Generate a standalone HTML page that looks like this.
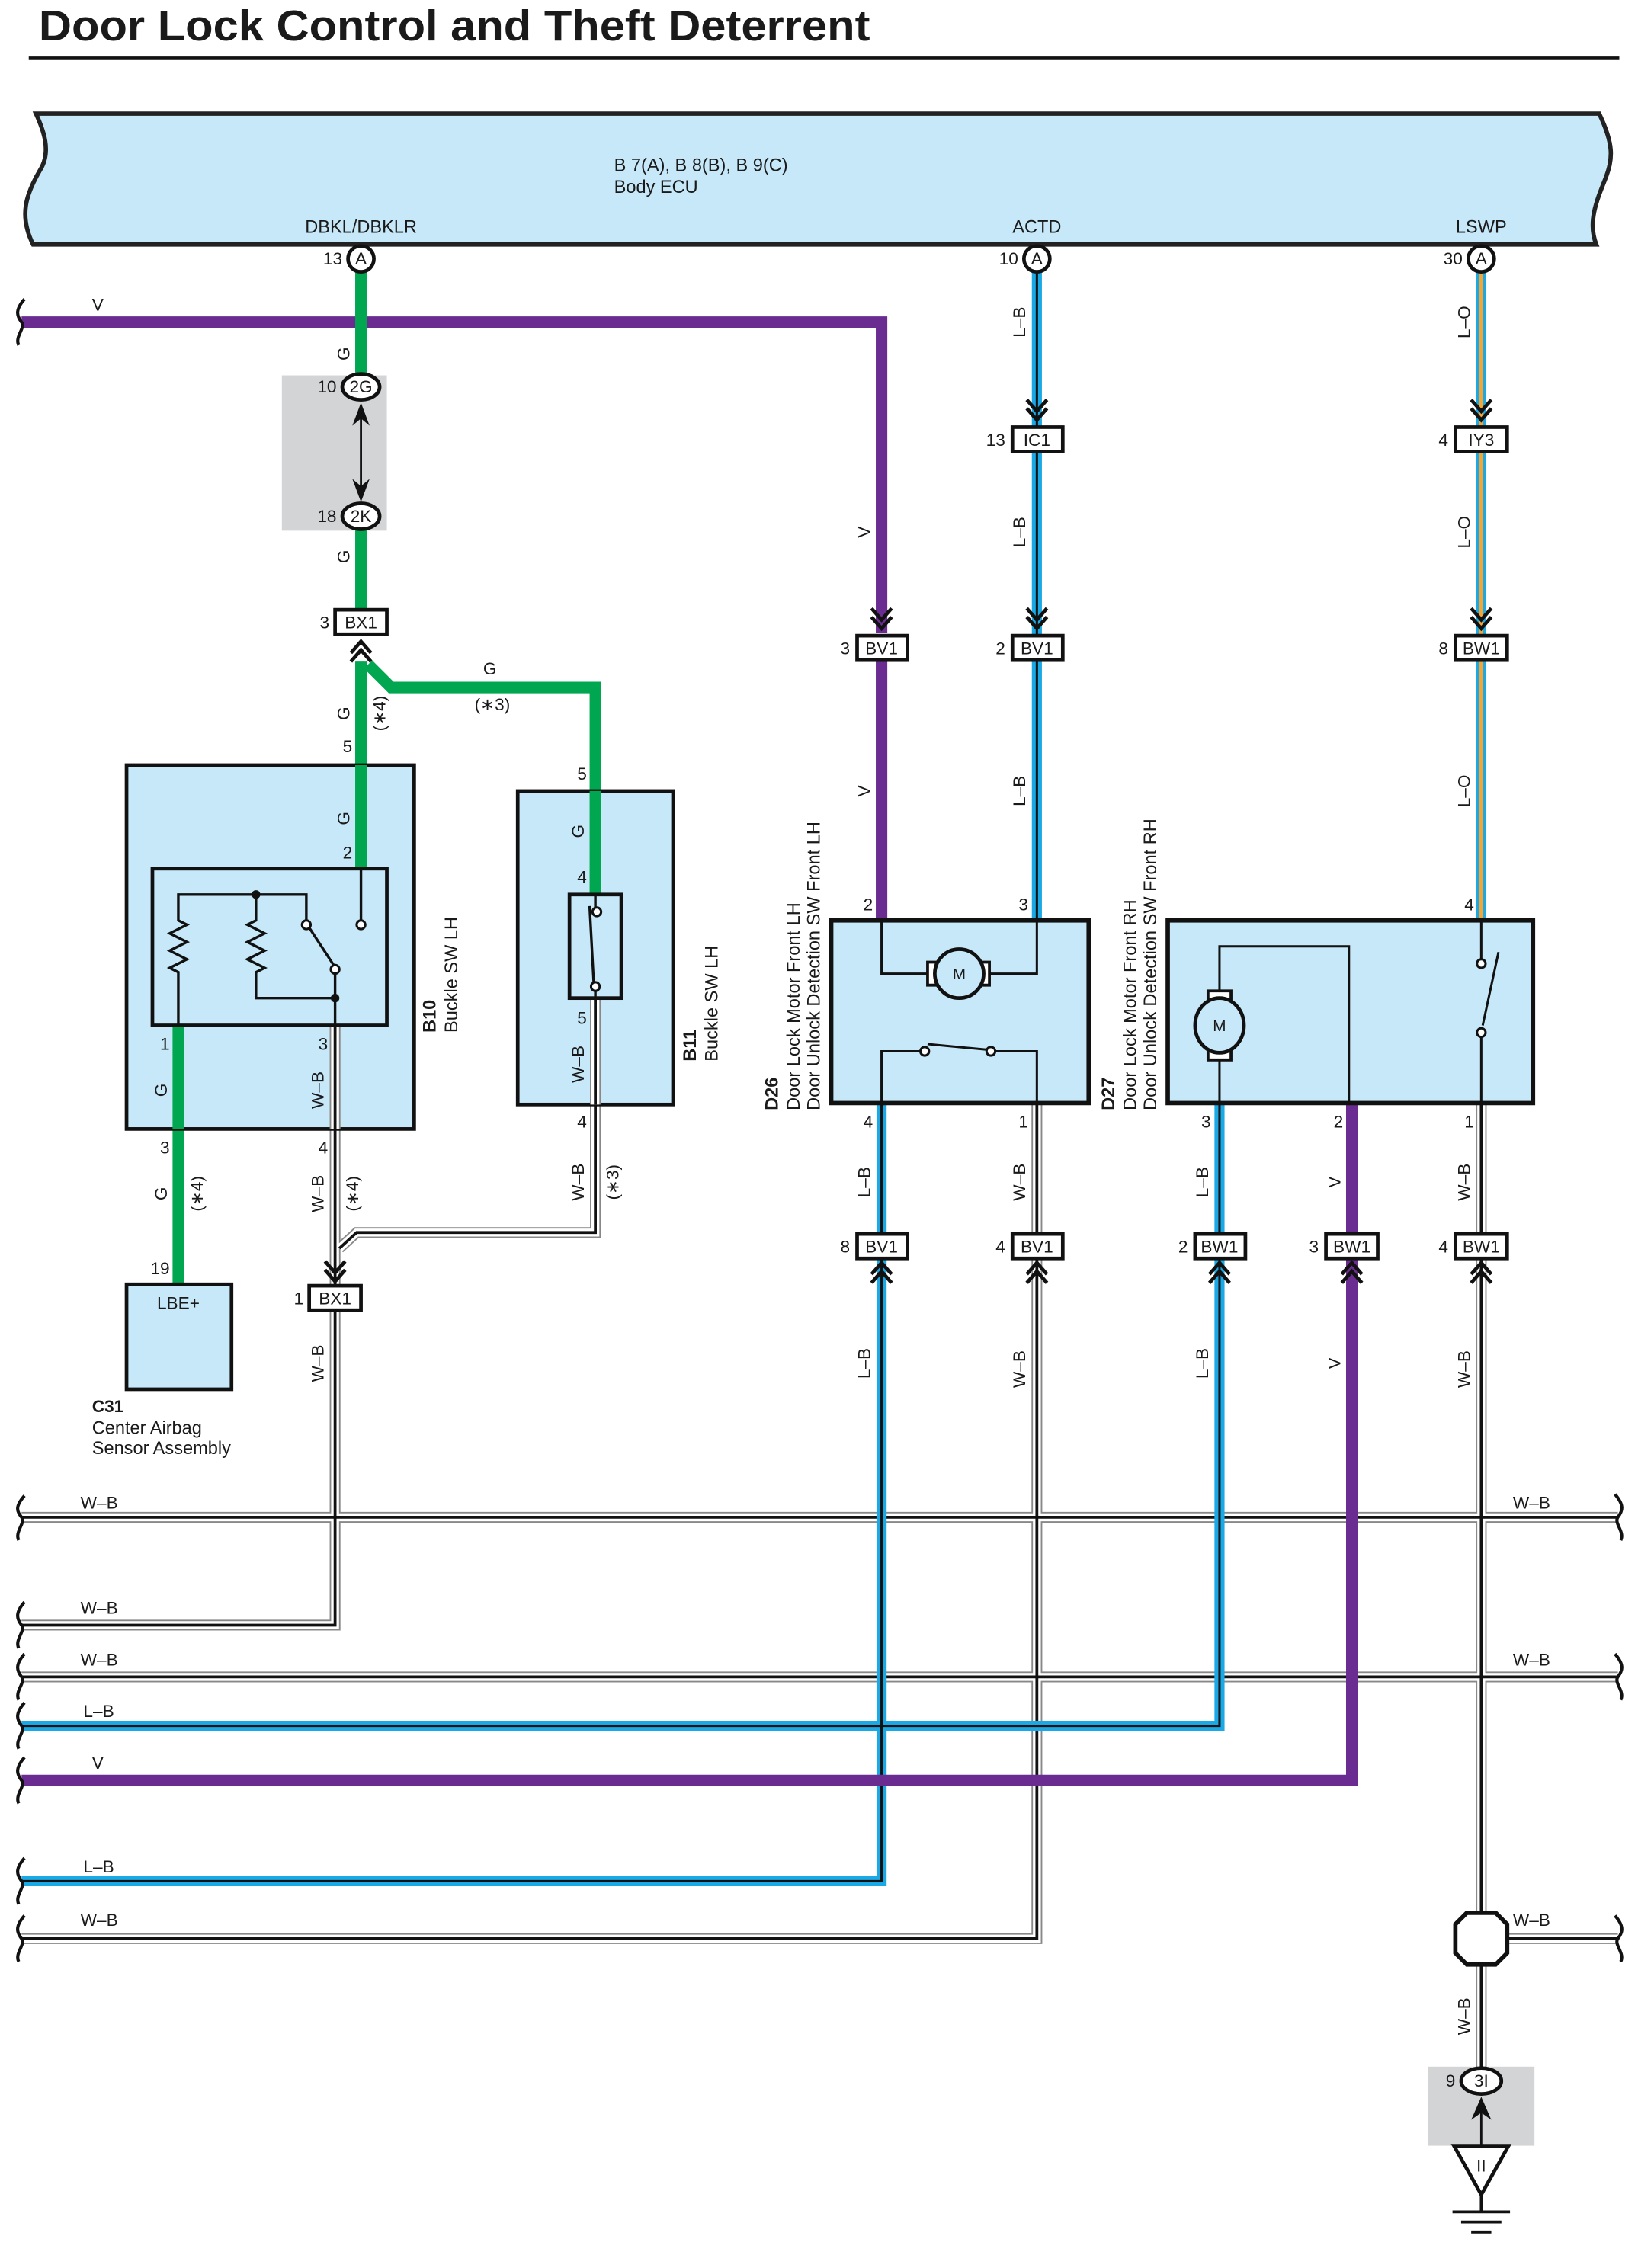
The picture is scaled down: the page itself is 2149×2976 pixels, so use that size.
<!DOCTYPE html>
<html><head><meta charset="utf-8"><style>html,body{margin:0;padding:0;background:#fff}svg{display:block}text{font-family:"Liberation Sans",sans-serif;fill:#1a1a1a}</style></head><body>
<svg width="2149" height="2976" viewBox="0 0 1139 1577" preserveAspectRatio="none" xmlns="http://www.w3.org/2000/svg">
<text x="27" y="28" font-size="30" font-weight="bold" textLength="578" lengthAdjust="spacingAndGlyphs">Door Lock Control and Theft Deterrent</text>
<line x1="20" y1="40.5" x2="1126" y2="40.5" stroke="#111" stroke-width="2.5"/>

<path d="M25 79 H1112 C1122 100 1122 110 1116 125 C1110 140 1104 155 1110 170 H23 C13 150 18 135 28 118 C36 105 30 90 25 79 Z" fill="#c6e8f8" stroke="#222" stroke-width="3"/>
<text x="427" y="119" font-size="12.5">B 7(A), B 8(B), B 9(C)</text>
<text x="427" y="134" font-size="12.5">Body ECU</text>
<text x="251" y="162" font-size="12.5" text-anchor="middle">DBKL/DBKLR</text>
<text x="721" y="162" font-size="12.5" text-anchor="middle">ACTD</text>
<text x="1030" y="162" font-size="12.5" text-anchor="middle">LSWP</text>

<rect x="196" y="261" width="73" height="108" fill="#d3d4d6"/>
<rect x="993" y="1437" width="74" height="55" fill="#d3d4d6"/>

<g fill="none" stroke-linejoin="miter">
<path d="M15 224 H613 V440" stroke="#6b2c91" stroke-width="8"/>
<path d="M613 460 V640" stroke="#6b2c91" stroke-width="8"/>
<path d="M251 189 V262 M251 368 V424" stroke="#00a650" stroke-width="8"/>
<path d="M251 460 V604" stroke="#00a650" stroke-width="8"/>
<path d="M256 462 L272 478 H414 V622" stroke="#00a650" stroke-width="8"/>
<path d="M124 713 V893" stroke="#00a650" stroke-width="8"/>
<g stroke-width="7" stroke="#1ba9e6"><path d="M721 189 V296 M721 314 V441 M721 459 V640"/></g>
<g stroke-width="1.6" stroke="#111"><path d="M721 189 V296 M721 314 V441 M721 459 V640"/></g>
<g stroke-width="7" stroke="#1ba9e6"><path d="M1030 189 V296 M1030 314 V441 M1030 459 V640"/></g>
<g stroke-width="2.6" stroke="#f7a431"><path d="M1030 189 V296 M1030 314 V441 M1030 459 V640"/></g>

<g stroke="#888" stroke-width="7.5">
<path d="M15 1055 H1125 M15 1166 H1125 M1048 1348 H1125"/>
<path d="M233 713 V894 M233 912 V1130 H15"/>
<path d="M414 694 V857 H248 L236 868"/>
<path d="M721 767 V857 M721 876 V1348 H15"/>
<path d="M1030 767 V857 M1030 876 V1330 M1030 1366 V1438"/>
</g>
<g stroke="#fff" stroke-width="5.5">
<path d="M15 1055 H1125 M15 1166 H1125 M1048 1348 H1125"/>
<path d="M233 713 V894 M233 912 V1130 H15"/>
<path d="M414 694 V857 H248 L236 868"/>
<path d="M721 767 V857 M721 876 V1348 H15"/>
<path d="M1030 767 V857 M1030 876 V1330 M1030 1366 V1438"/>
</g>
<g stroke="#111" stroke-width="2">
<path d="M15 1055 H1125 M15 1166 H1125 M1048 1348 H1125"/>
<path d="M233 713 V894 M233 912 V1130 H15"/>
<path d="M414 694 V857 H248 L236 868"/>
<path d="M721 767 V857 M721 876 V1348 H15"/>
<path d="M1030 767 V857 M1030 876 V1330 M1030 1366 V1438"/>
</g>
<g stroke="#1ba9e6" stroke-width="7"><path d="M613 767 V857 M613 876 V1308 H15"/><path d="M848 767 V857 M848 876 V1200 H15"/></g>
<g stroke="#111" stroke-width="1.6"><path d="M613 767 V857 M613 876 V1308 H15"/><path d="M848 767 V857 M848 876 V1200 H15"/></g>
<path d="M940 767 V857 M940 876 V1238 H15" stroke="#6b2c91" stroke-width="8"/>

<g stroke="#111" stroke-width="2.2">
<path d="M17 208 C10 216 12 220 15 224 C18 228 10 234 13 240"/>
<path d="M17 1040 C10 1048 12 1051 15 1055 C18 1059 10 1065 13 1071"/>
<path d="M17 1114 C10 1122 12 1126 15 1130 C18 1134 10 1140 13 1146"/>
<path d="M17 1150 C10 1158 12 1162 15 1166 C18 1170 10 1176 13 1182"/>
<path d="M17 1184 C10 1192 12 1196 15 1200 C18 1204 10 1210 13 1216"/>
<path d="M17 1222 C10 1230 12 1234 15 1238 C18 1242 10 1248 13 1254"/>
<path d="M17 1292 C10 1300 12 1304 15 1308 C18 1312 10 1318 13 1324"/>
<path d="M17 1332 C10 1340 12 1344 15 1348 C18 1352 10 1358 13 1364"/>
<path d="M1123 1039 C1130 1047 1128 1051 1125 1055 C1122 1059 1130 1065 1127 1071"/>
<path d="M1123 1150 C1130 1158 1128 1162 1125 1166 C1122 1170 1130 1176 1127 1182"/>
<path d="M1123 1332 C1130 1340 1128 1344 1125 1348 C1122 1352 1130 1358 1127 1364"/>
</g>
</g>

<g stroke="#111" stroke-width="2.5" fill="#fff">
<circle cx="251" cy="180" r="9"/><circle cx="721" cy="180" r="9"/><circle cx="1030" cy="180" r="9"/>
<ellipse cx="251" cy="269" rx="13" ry="9"/><ellipse cx="251" cy="359" rx="13" ry="9"/>
<ellipse cx="1030" cy="1447" rx="14" ry="9"/>
</g>
<g font-size="12" text-anchor="middle">
<text x="251" y="184">A</text><text x="721" y="184">A</text><text x="1030" y="184">A</text>
<text x="251" y="273">2G</text><text x="251" y="363">2K</text><text x="1030" y="1451">3I</text>
</g>
<g font-size="12" text-anchor="end">
<text x="238" y="184">13</text><text x="708" y="184">10</text><text x="1017" y="184">30</text>
<text x="234" y="273">10</text><text x="234" y="363">18</text><text x="1012" y="1451">9</text>
</g>
<path d="M251 282 V346" stroke="#111" stroke-width="1.5"/>
<path d="M245 296 L251 280 L257 296 L251 291Z M245 333 L251 349 L257 333 L251 338Z" fill="#111"/>
<path d="M1030 1460 V1492" stroke="#111" stroke-width="1.5"/>
<path d="M1023 1474 L1030 1458 L1037 1474 L1030 1469Z" fill="#111"/>
<path d="M1011 1492 H1049 L1030 1526 Z" fill="#fff" stroke="#111" stroke-width="2.5"/>
<text x="1030" y="1510" font-size="12" text-anchor="middle">II</text>
<path d="M1030 1526 V1538 M1010 1538 H1050 M1016 1545 H1044 M1023 1552 H1037" stroke="#111" stroke-width="2"/>
<polygon points="1020,1330 1040,1330 1048,1338 1048,1358 1040,1366 1020,1366 1012,1358 1012,1338" fill="#fff" stroke="#111" stroke-width="3"/>

<g stroke="#111" stroke-width="2.5" fill="#fff">
<rect x="233" y="424" width="36" height="17"/>
<rect x="704" y="297" width="35" height="17"/>
<rect x="1012" y="297" width="36" height="17"/>
<rect x="596" y="442" width="35" height="17"/>
<rect x="704" y="442" width="35" height="17"/>
<rect x="1012" y="442" width="36" height="17"/>
<rect x="596" y="858" width="35" height="17"/>
<rect x="704" y="858" width="35" height="17"/>
<rect x="831" y="858" width="35" height="17"/>
<rect x="922" y="858" width="36" height="17"/>
<rect x="1012" y="858" width="36" height="17"/>
<rect x="215" y="894" width="36" height="17"/>
</g>
<g font-size="12" text-anchor="middle">
<text x="251" y="437">BX1</text><text x="721" y="310">IC1</text><text x="1030" y="310">IY3</text>
<text x="613" y="455">BV1</text><text x="721" y="455">BV1</text><text x="1030" y="455">BW1</text>
<text x="613" y="871">BV1</text><text x="721" y="871">BV1</text><text x="848" y="871">BW1</text>
<text x="940" y="871">BW1</text><text x="1030" y="871">BW1</text><text x="233" y="907">BX1</text>
</g>
<g font-size="12" text-anchor="end">
<text x="229" y="437">3</text><text x="699" y="310">13</text><text x="1007" y="310">4</text>
<text x="591" y="455">3</text><text x="699" y="455">2</text><text x="1007" y="455">8</text>
<text x="591" y="871">8</text><text x="699" y="871">4</text><text x="826" y="871">2</text>
<text x="917" y="871">3</text><text x="1007" y="871">4</text><text x="211" y="907">1</text>
</g>
<g fill="none" stroke="#111" stroke-width="2.5">
<path d="M714 278 L721 286 L728 278 M714 284 L721 292 L728 284"/>
<path d="M1023 278 L1030 286 L1037 278 M1023 284 L1030 292 L1037 284"/>
<path d="M606 423 L613 431 L620 423 M606 429 L613 437 L620 429"/>
<path d="M714 423 L721 431 L728 423 M714 429 L721 437 L728 429"/>
<path d="M1023 423 L1030 431 L1037 423 M1023 429 L1030 437 L1037 429"/>
<path d="M226 877 L233 885 L240 877 M226 883 L233 891 L240 883"/>
<path d="M244 454 L251 446 L258 454 M244 460 L251 452 L258 460"/>
<path d="M606 886 L613 878 L620 886 M606 892 L613 884 L620 892"/>
<path d="M714 886 L721 878 L728 886 M714 892 L721 884 L728 892"/>
<path d="M841 886 L848 878 L855 886 M841 892 L848 884 L855 892"/>
<path d="M933 886 L940 878 L947 886 M933 892 L940 884 L947 892"/>
<path d="M1023 886 L1030 878 L1037 886 M1023 892 L1030 884 L1037 892"/>
</g>

<!-- B10 -->
<rect x="88" y="532" width="200" height="253" fill="#c6e8f8" stroke="#111" stroke-width="2.5"/>
<path d="M251 532 V604" stroke="#00a650" stroke-width="8"/>
<path d="M124 713 V785" stroke="#00a650" stroke-width="8"/>
<path d="M233 713 V785" stroke="#888" stroke-width="7.5"/><path d="M233 713 V785" stroke="#fff" stroke-width="5.5"/><path d="M233 713 V785" stroke="#111" stroke-width="2"/>
<rect x="106" y="604" width="163" height="109" fill="#c6e8f8" stroke="#111" stroke-width="2.5"/>
<g fill="none" stroke="#111" stroke-width="1.8" stroke-linejoin="miter">
<path d="M124 713 V676 l-6 -3 l12 -6 l-12 -6 l12 -6 l-12 -6 l12 -6 l-6 -3 V622 H213 V640"/>
<path d="M178 622 V640 l-6 3 l12 6 l-12 6 l12 6 l-12 6 l12 6 l-6 3 V694 H233"/>
<path d="M215 645 L232 671 M233 677 V713"/>
<path d="M251 604 V640"/>
</g>
<g fill="#fff" stroke="#111" stroke-width="1.6"><circle cx="213" cy="643" r="3"/><circle cx="233" cy="674" r="3"/><circle cx="251" cy="643" r="3"/></g>
<circle cx="178" cy="622" r="3" fill="#111"/><circle cx="233" cy="694" r="3" fill="#111"/>

<!-- B11 -->
<rect x="360" y="550" width="108" height="218" fill="#c6e8f8" stroke="#111" stroke-width="2.5"/>
<path d="M414 550 V622" stroke="#00a650" stroke-width="8"/>
<path d="M414 694 V768" stroke="#888" stroke-width="7.5"/><path d="M414 694 V768" stroke="#fff" stroke-width="5.5"/><path d="M414 694 V768" stroke="#111" stroke-width="2"/>
<rect x="396" y="622" width="36" height="72" fill="#c6e8f8" stroke="#111" stroke-width="2.5"/>
<path d="M414 622 V632 M410 630 L413 686 M414 688 V694" stroke="#111" stroke-width="1.8"/>
<g fill="#fff" stroke="#111" stroke-width="1.6"><circle cx="415" cy="634" r="3"/><circle cx="414" cy="686" r="3"/></g>

<!-- C31 -->
<rect x="88" y="893" width="73" height="73" fill="#c6e8f8" stroke="#111" stroke-width="2.5"/>
<text x="124" y="910" font-size="12" text-anchor="middle">LBE+</text>
<text x="64" y="982" font-size="12" font-weight="bold">C31</text>
<text x="64" y="997" font-size="12.5">Center Airbag</text>
<text x="64" y="1011" font-size="12.5">Sensor Assembly</text>

<!-- D26 -->
<rect x="578" y="640" width="179" height="127" fill="#c6e8f8" stroke="#111" stroke-width="3"/>
<g fill="none" stroke="#111" stroke-width="1.6">
<path d="M613 640 V677 H645 M688 677 H721 V640"/>
<path d="M613 767 V731 H641 M645 726 L688 730 M690 731 H721 V767"/>
</g>
<path d="M645 669 h6 v16 h-6z M682 669 h6 v16 h-6z" fill="#fff" stroke="#111" stroke-width="2"/>
<ellipse cx="667" cy="677" rx="17" ry="17" fill="#c6e8f8" stroke="#111" stroke-width="2.5"/>
<text x="667" y="681" font-size="11" text-anchor="middle">M</text>
<g fill="#fff" stroke="#111" stroke-width="1.6"><circle cx="643" cy="731" r="3"/><circle cx="689" cy="731" r="3"/></g>
<!-- D27 -->
<rect x="812" y="640" width="254" height="127" fill="#c6e8f8" stroke="#111" stroke-width="3"/>
<g fill="none" stroke="#111" stroke-width="1.6">
<path d="M848 767 V658 H938 V767"/>
<path d="M1030 640 V668 M1042 662 L1031 713 M1030 720 V767"/>
</g>
<path d="M840 689 h16 v7 h-16z M840 730 h16 v7 h-16z" fill="#fff" stroke="#111" stroke-width="2"/>
<ellipse cx="848" cy="713" rx="17" ry="19" fill="#c6e8f8" stroke="#111" stroke-width="2.5"/>
<text x="848" y="717" font-size="11" text-anchor="middle">M</text>
<g fill="#fff" stroke="#111" stroke-width="1.6"><circle cx="1030" cy="670" r="3"/><circle cx="1030" cy="718" r="3"/></g>

<g font-size="12" text-anchor="end">
<text x="245" y="523">5</text><text x="245" y="597">2</text><text x="118" y="730">1</text><text x="228" y="730">3</text>
<text x="118" y="802">3</text><text x="228" y="802">4</text><text x="118" y="886">19</text>
<text x="408" y="542">5</text><text x="408" y="614">4</text><text x="408" y="712">5</text><text x="408" y="784">4</text>
<text x="607" y="633">2</text><text x="715" y="633">3</text><text x="607" y="784">4</text><text x="715" y="784">1</text>
<text x="1025" y="633">4</text><text x="842" y="784">3</text><text x="934" y="784">2</text><text x="1025" y="784">1</text>
</g>

<g font-size="12">
<text x="64" y="216">V</text><text x="336" y="469">G</text><text x="330" y="494">(∗3)</text>
<text x="56" y="1049">W–B</text><text x="1052" y="1049">W–B</text>
<text x="56" y="1122">W–B</text><text x="56" y="1158">W–B</text><text x="1052" y="1158">W–B</text>
<text x="58" y="1194">L–B</text><text x="64" y="1230">V</text><text x="58" y="1302">L–B</text>
<text x="56" y="1339">W–B</text><text x="1052" y="1339">W–B</text>
</g>
<g font-size="12">
<text transform="translate(243,246) rotate(-90)" text-anchor="middle">G</text>
<text transform="translate(243,387) rotate(-90)" text-anchor="middle">G</text>
<text transform="translate(243,496) rotate(-90)" text-anchor="middle">G</text>
<text transform="translate(268,496) rotate(-90)" text-anchor="middle">(∗4)</text>
<text transform="translate(243,569) rotate(-90)" text-anchor="middle">G</text>
<text transform="translate(116,758) rotate(-90)" text-anchor="middle">G</text>
<text transform="translate(116,830) rotate(-90)" text-anchor="middle">G</text>
<text transform="translate(141,830) rotate(-90)" text-anchor="middle">(∗4)</text>
<text transform="translate(225,758) rotate(-90)" text-anchor="middle">W–B</text>
<text transform="translate(225,830) rotate(-90)" text-anchor="middle">W–B</text>
<text transform="translate(249,830) rotate(-90)" text-anchor="middle">(∗4)</text>
<text transform="translate(225,948) rotate(-90)" text-anchor="middle">W–B</text>
<text transform="translate(406,578) rotate(-90)" text-anchor="middle">G</text>
<text transform="translate(406,740) rotate(-90)" text-anchor="middle">W–B</text>
<text transform="translate(406,822) rotate(-90)" text-anchor="middle">W–B</text>
<text transform="translate(430,822) rotate(-90)" text-anchor="middle">(∗3)</text>
<text transform="translate(605,370) rotate(-90)" text-anchor="middle">V</text>
<text transform="translate(605,550) rotate(-90)" text-anchor="middle">V</text>
<text transform="translate(713,224) rotate(-90)" text-anchor="middle">L–B</text>
<text transform="translate(713,370) rotate(-90)" text-anchor="middle">L–B</text>
<text transform="translate(713,550) rotate(-90)" text-anchor="middle">L–B</text>
<text transform="translate(1022,224) rotate(-90)" text-anchor="middle">L–O</text>
<text transform="translate(1022,370) rotate(-90)" text-anchor="middle">L–O</text>
<text transform="translate(1022,550) rotate(-90)" text-anchor="middle">L–O</text>
<text transform="translate(605,822) rotate(-90)" text-anchor="middle">L–B</text>
<text transform="translate(713,822) rotate(-90)" text-anchor="middle">W–B</text>
<text transform="translate(840,822) rotate(-90)" text-anchor="middle">L–B</text>
<text transform="translate(932,822) rotate(-90)" text-anchor="middle">V</text>
<text transform="translate(1022,822) rotate(-90)" text-anchor="middle">W–B</text>
<text transform="translate(605,948) rotate(-90)" text-anchor="middle">L–B</text>
<text transform="translate(713,952) rotate(-90)" text-anchor="middle">W–B</text>
<text transform="translate(840,948) rotate(-90)" text-anchor="middle">L–B</text>
<text transform="translate(932,948) rotate(-90)" text-anchor="middle">V</text>
<text transform="translate(1022,952) rotate(-90)" text-anchor="middle">W–B</text>
<text transform="translate(1022,1402) rotate(-90)" text-anchor="middle">W–B</text>
</g>
<g font-size="12.5">
<text transform="translate(303,718) rotate(-90)" font-weight="bold">B10</text>
<text transform="translate(318,718) rotate(-90)">Buckle SW LH</text>
<text transform="translate(484,738) rotate(-90)" font-weight="bold">B11</text>
<text transform="translate(499,738) rotate(-90)">Buckle SW LH</text>
<text transform="translate(541,772) rotate(-90)" font-weight="bold">D26</text>
<text transform="translate(556,772) rotate(-90)">Door Lock Motor Front LH</text>
<text transform="translate(570,772) rotate(-90)">Door Unlock Detection SW Front LH</text>
<text transform="translate(775,772) rotate(-90)" font-weight="bold">D27</text>
<text transform="translate(790,772) rotate(-90)">Door Lock Motor Front RH</text>
<text transform="translate(804,772) rotate(-90)">Door Unlock Detection SW Front RH</text>
</g>
</svg>
</body></html>
